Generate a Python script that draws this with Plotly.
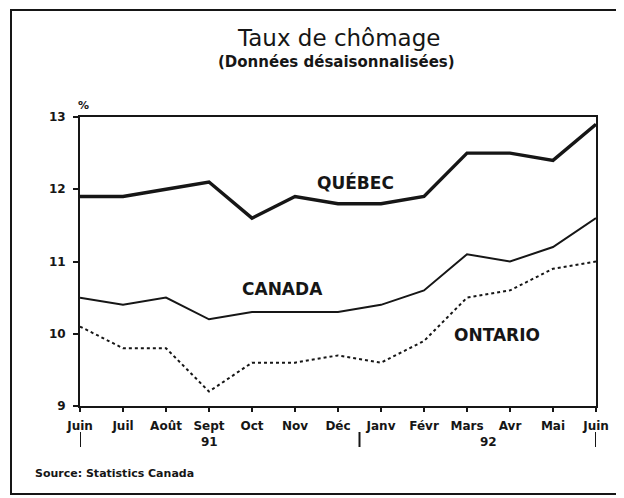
import plotly.graph_objects as go

months = ["Juin", "Juil", "Août", "Sept", "Oct", "Nov", "Déc",
          "Janv", "Févr", "Mars", "Avr", "Mai", "Juin"]
quebec = [11.9, 11.9, 12.0, 12.1, 11.6, 11.9, 11.8, 11.8, 11.9, 12.5, 12.5, 12.4, 12.9]
canada = [10.5, 10.4, 10.5, 10.2, 10.3, 10.3, 10.3, 10.4, 10.6, 11.1, 11.0, 11.2, 11.6]
ontario = [10.1, 9.8, 9.8, 9.2, 9.6, 9.6, 9.7, 9.6, 9.9, 10.5, 10.6, 10.9, 11.0]
y_ticks = [9, 10, 11, 12, 13]
years = [("91", 3), ("92", 9.5)]
year_breaks = [0, 6.5, 12]

xs = list(range(len(months)))
# page body adds an 8px margin; figure sized so it fits the 624x498 window
OFF = 8
W, H = 616, 490
L, T, pw, ph = 72, 109, 516, 289
R, B = W - L - pw, H - T - ph


def px_x(sx):
    return (sx - OFF - L) / pw


def px_y(sy):
    return (H - B - (sy - OFF)) / ph


ink = "#161616"
BOLD = "DejaVu Sans"
fig = go.Figure()
fig.add_trace(go.Scatter(x=xs, y=quebec, mode="lines", line=dict(color=ink, width=3.4)))
fig.add_trace(go.Scatter(x=xs, y=canada, mode="lines", line=dict(color=ink, width=2)))
fig.add_trace(go.Scatter(x=xs, y=ontario, mode="lines", line=dict(color=ink, width=2, dash="dot")))


def bfont(size):
    return dict(family=BOLD, size=size, color=ink, weight="bold")


fig.update_layout(
    width=W, height=H,
    margin=dict(l=L, r=R, t=T, b=B, pad=0),
    paper_bgcolor="white", plot_bgcolor="white",
    showlegend=False,
    font=dict(family=BOLD, color=ink),
    xaxis=dict(range=[0, 12], tickvals=xs, ticktext=months, showgrid=False, zeroline=False,
               showline=True, linecolor=ink, linewidth=2, mirror=True,
               ticks="outside", ticklen=4, tickcolor=ink, tickwidth=2,
               tickfont=bfont(12), ticklabelstandoff=4),
    yaxis=dict(range=[9, 13], tickvals=y_ticks, ticktext=[str(v) for v in y_ticks],
               showgrid=False, zeroline=False,
               showline=True, linecolor=ink, linewidth=2, mirror=True,
               ticks="outside", ticklen=5, tickcolor=ink, tickwidth=2,
               tickfont=bfont(12), ticklabelstandoff=5),
)


def ann(text, sx, sy, font, xanchor="center"):
    return dict(text=text, x=px_x(sx), y=px_y(sy), xref="paper", yref="paper",
                xanchor=xanchor, yanchor="middle", showarrow=False, font=font)


annotations = [
    ann("Taux de chômage", 338, 38, dict(family="DejaVu Sans", size=23, color=ink)),
    ann("(Données désaisonnalisées)", 336, 62, bfont(15)),
    ann("%", 83, 105, bfont(11)),
    ann("Source: Statistics Canada", 33, 473, bfont(11), xanchor="left"),
]
for text, x, y in [("QUÉBEC", 6.40, 12.10), ("CANADA", 4.72, 10.62), ("ONTARIO", 9.70, 9.98)]:
    annotations.append(dict(text=text, x=x, y=y, xref="x", yref="y", showarrow=False,
                            xanchor="center", yanchor="middle", font=bfont(17)))
for label, pos in years:
    annotations.append(dict(text=label, x=pos, y=px_y(442), xref="x", yref="paper",
                            xanchor="center", yanchor="middle", showarrow=False, font=bfont(12)))
fig.update_layout(annotations=annotations)

shapes = []
for xb in year_breaks:
    shapes.append(dict(type="line", xref="x", yref="paper", x0=xb, x1=xb,
                       y0=px_y(432), y1=px_y(447), line=dict(color=ink, width=2)))
# outer frame (right side runs off the page in the reference)
shapes.append(dict(type="rect", xref="paper", yref="paper",
                   x0=px_x(11), x1=px_x(640), y0=px_y(494), y1=px_y(10),
                   line=dict(color=ink, width=2)))
fig.update_layout(shapes=shapes)

fig.write_html("out.html")
